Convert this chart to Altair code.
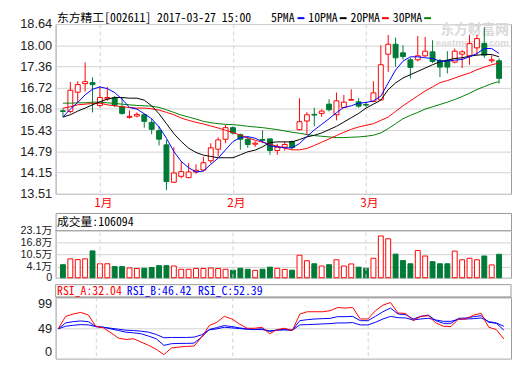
import altair as alt
import pandas as pd

# ---------------- data ----------------
dates = (["2016-12-26", "2016-12-27", "2016-12-28", "2016-12-29", "2016-12-30"]
         + ["2017-01-%02d" % d for d in [3, 4, 5, 6, 9, 10, 11, 12, 13, 16, 17, 18, 19, 20, 23, 24, 25, 26]]
         + ["2017-02-%02d" % d for d in [3, 6, 7, 8, 9, 10, 13, 14, 15, 16, 17, 20, 21, 22, 23, 24, 27, 28]]
         + ["2017-03-%02d" % d for d in [1, 2, 3, 6, 7, 8, 9, 10, 13, 14, 15, 16, 17, 20, 21, 22, 23, 24, 27]])

opens = [16.02, 16.00, 16.58, 16.84, 16.87, 16.18, 16.38, 16.42, 16.14, 15.82,
         15.86, 15.90, 15.67, 15.42, 14.99, 13.86, 14.04, 14.00, 14.17, 14.23,
         14.51, 14.86, 15.16, 15.51, 15.30, 15.16, 15.01, 15.15, 15.17, 14.82,
         14.92, 15.09, 15.45, 15.71, 15.91, 15.94, 16.22, 15.90, 16.12, 16.34,
         16.29, 16.21, 16.30, 16.35, 17.73, 18.03, 17.77, 17.56, 17.56, 17.68,
         17.80, 17.54, 17.54, 17.49, 17.73, 17.68, 17.92, 18.05, 17.53, 17.53]
highs = [16.09, 16.89, 16.91, 17.48, 17.03, 16.76, 16.74, 16.47, 16.42, 16.03,
         15.97, 15.93, 15.78, 15.55, 15.14, 14.92, 14.50, 14.44, 14.40, 14.63,
         15.04, 15.22, 15.59, 15.55, 15.33, 15.24, 15.10, 15.43, 15.18, 15.02,
         15.09, 15.12, 16.40, 15.98, 16.11, 16.06, 16.37, 16.57, 16.50, 16.67,
         16.40, 16.29, 16.91, 18.00, 18.31, 18.23, 18.00, 17.62, 18.28, 18.25,
         18.15, 17.59, 17.82, 17.90, 17.85, 18.30, 18.31, 18.54, 17.70, 17.60]
lows = [15.83, 15.94, 16.27, 16.60, 15.97, 16.12, 16.32, 16.13, 15.90, 15.78,
        15.82, 15.51, 15.31, 14.97, 13.62, 13.84, 13.98, 13.98, 14.12, 14.19,
        14.43, 14.64, 15.04, 15.30, 14.84, 14.90, 14.93, 15.05, 14.69, 14.69,
        14.82, 14.85, 15.43, 15.29, 15.55, 15.84, 16.00, 15.73, 16.11, 16.33,
        16.11, 16.13, 16.30, 16.33, 17.19, 17.35, 17.57, 16.99, 17.51, 17.64,
        17.46, 17.04, 17.15, 17.45, 17.31, 17.41, 17.70, 17.62, 17.47, 16.84]
closes = [16.00, 16.64, 16.81, 16.90, 16.81, 16.42, 16.42, 16.19, 15.94, 15.85,
          15.91, 15.70, 15.46, 15.16, 13.88, 14.14, 14.18, 14.17, 14.22, 14.45,
          14.90, 15.14, 15.51, 15.35, 15.16, 15.00, 15.04, 15.13, 14.82, 14.92,
          15.00, 14.91, 15.69, 15.90, 15.89, 16.01, 16.05, 16.32, 16.28, 16.36,
          16.16, 16.19, 16.56, 17.41, 18.03, 17.62, 17.66, 17.33, 17.68, 17.82,
          17.51, 17.34, 17.34, 17.82, 17.80, 18.05, 18.20, 17.70, 17.56, 17.00]
volumes = [5.1, 8.2, 7.8, 8.2, 12.4, 5.6, 5.6, 4.1, 4.1, 3.4,
           3.1, 3.2, 3.6, 4.6, 4.6, 4.4, 2.7, 2.7, 3.1, 3.1,
           3.4, 3.1, 2.7, 2.2, 3.2, 2.7, 2.1, 2.7, 3.8, 3.2,
           2.6, 2.2, 10.1, 7.2, 5.6, 4.4, 5.1, 7.7, 4.4, 5.5,
           3.8, 3.2, 8.5, 20.3, 18.8, 10.7, 7.3, 5.6, 12.6, 9.7,
           6.7, 5.6, 5.6, 12.3, 7.7, 8.5, 7.7, 9.7, 5.0, 10.6094]
ma5 = [15.83, 16.07, 16.27, 16.50, 16.67, 16.74, 16.69, 16.57, 16.37, 16.12,
       16.07, 15.93, 15.78, 15.53, 15.19, 14.79, 14.49, 14.30, 14.17, 14.20,
       14.40, 14.59, 14.84, 15.09, 15.21, 15.24, 15.19, 15.09, 14.96, 14.93,
       14.90, 14.90, 15.03, 15.24, 15.44, 15.61, 15.78, 15.96, 16.12, 16.17,
       16.25, 16.27, 16.32, 16.46, 16.86, 17.25, 17.52, 17.65, 17.65, 17.62,
       17.60, 17.52, 17.52, 17.55, 17.57, 17.65, 17.75, 17.90, 17.90, 17.75]
ma10 = [15.83, 15.90, 16.01, 16.10, 16.20, 16.29, 16.37, 16.42, 16.42, 16.40,
        16.40, 16.34, 16.17, 15.93, 15.63, 15.33, 15.09, 14.89, 14.76, 14.68,
        14.64, 14.60, 14.60, 14.60, 14.69, 14.78, 14.83, 14.93, 15.06, 15.08,
        15.08, 15.08, 15.15, 15.23, 15.28, 15.35, 15.45, 15.55, 15.68, 15.81,
        15.94, 16.10, 16.22, 16.34, 16.66, 16.86, 17.01, 17.11, 17.21, 17.31,
        17.41, 17.50, 17.55, 17.60, 17.62, 17.67, 17.70, 17.72, 17.72, 17.65]
ma20 = [16.10, 16.14, 16.20, 16.22, 16.24, 16.25, 16.20, 16.17, 16.14, 16.12,
        16.10, 16.10, 16.08, 16.04, 15.97, 15.90, 15.80, 15.73, 15.67, 15.62,
        15.56, 15.50, 15.43, 15.36, 15.28, 15.20, 15.13, 15.07, 15.01, 14.95,
        14.89, 14.84, 14.84, 14.88, 14.97, 15.07, 15.17, 15.27, 15.37, 15.46,
        15.53, 15.58, 15.63, 15.73, 15.83, 16.00, 16.17, 16.32, 16.47, 16.62,
        16.74, 16.87, 16.93, 17.01, 17.09, 17.16, 17.26, 17.34, 17.41, 17.46]
ma30 = [16.25, 16.25, 16.26, 16.26, 16.28, 16.28, 16.26, 16.24, 16.22, 16.20,
        16.18, 16.17, 16.16, 16.12, 16.05, 15.97, 15.89, 15.83, 15.77, 15.70,
        15.66, 15.63, 15.61, 15.60, 15.58, 15.55, 15.53, 15.51, 15.48, 15.45,
        15.41, 15.37, 15.34, 15.30, 15.27, 15.25, 15.23, 15.21, 15.21, 15.22,
        15.23, 15.25, 15.28, 15.35, 15.48, 15.63, 15.78, 15.88, 15.97, 16.07,
        16.14, 16.21, 16.28, 16.36, 16.45, 16.55, 16.66, 16.75, 16.84, 16.90]
rsi_a = [48.3, 68.5, 72.3, 74.9, 70.7, 52.5, 49.9, 41.9, 33.3, 31.2,
         32.3, 26.9, 21.6, 15.2, 6.7, 17.3, 18.9, 20.0, 20.5, 34.9,
         53.6, 58.9, 68.5, 64.3, 56.3, 49.3, 49.3, 50.9, 40.3, 47.2,
         49.3, 45.6, 72.3, 76.0, 76.0, 76.0, 77.6, 82.9, 81.9, 82.9,
         64.3, 64.3, 77.6, 86.7, 90.9, 73.9, 73.3, 61.6, 68.5, 69.6,
         57.9, 52.5, 52.0, 64.3, 64.3, 70.7, 73.3, 50.9, 47.2, 32.04]
rsi_b = [48.3, 57.9, 60.0, 61.1, 60.0, 52.0, 50.9, 48.3, 45.6, 42.9,
         41.9, 40.3, 36.5, 32.3, 21.6, 24.3, 24.8, 24.8, 25.3, 34.9,
         47.2, 50.4, 53.6, 52.0, 49.9, 48.3, 47.7, 48.3, 44.0, 46.7,
         47.2, 46.1, 61.6, 63.2, 64.3, 64.8, 65.3, 68.0, 68.0, 68.5,
         61.6, 61.6, 68.5, 76.0, 81.9, 72.3, 71.2, 64.3, 68.5, 70.7,
         61.6, 57.3, 57.3, 65.3, 65.9, 68.0, 69.6, 58.9, 57.3, 46.42]
rsi_c = [48.3, 52.5, 54.1, 55.2, 54.7, 52.0, 50.9, 49.3, 47.7, 46.1,
         45.6, 44.5, 42.9, 39.2, 33.9, 34.4, 34.4, 34.4, 34.9, 38.7,
         46.7, 48.3, 50.9, 49.9, 48.8, 47.7, 47.2, 47.2, 45.1, 46.1,
         46.7, 46.1, 54.7, 55.2, 55.7, 56.3, 56.8, 57.9, 57.9, 58.4,
         54.7, 54.7, 58.9, 64.3, 68.5, 66.4, 65.9, 62.7, 64.3, 65.3,
         62.7, 60.5, 60.5, 63.7, 64.3, 64.8, 65.9, 60.0, 57.9, 52.39]

price_ticks = [13.51, 14.15, 14.79, 15.43, 16.08, 16.72, 17.36, 18.00, 18.64]
vol_ticks = [4.1, 10.5, 16.8, 23.1]
rsi_ticks = [0, 49, 99]
month_pos = [5, 23, 41]
month_names = ["1月", "2月", "3月"]
title_text = "东方精工[002611] 2017-03-27 15:00"
ma_names = ["5PMA", "10PMA", "20PMA", "30PMA"]
vol_title = "成交量:106094"
rsi_titles = ["RSI_A:32.04", "RSI_B:46.42", "RSI_C:52.39"]

# ---------------- styling ----------------
RED = "#ff0000"
GREEN = "#007a37"
BLUE = "#0000ff"
BLACK = "#000000"
MA_GREEN = "#008000"
BORDER = "#9a9a9a"
GRID = "#d2d2d2"
WM = "#dadada"
FONT_NUM = "Liberation Sans"
FONT_CJK = "Noto Sans CJK SC"
FONT_MONO = "Noto Sans Mono CJK SC, Noto Sans CJK SC, Liberation Mono, monospace"

W = 464
MAIN_H = 173
VOL_H = 66
RSI_H = 63
VOL_BASE = -1.8
VOL_TOP = 32.44
HEAD_Y = -6

df = pd.DataFrame({
    "i": list(range(len(dates))), "date": dates,
    "open": opens, "high": highs, "low": lows, "close": closes, "vol": volumes,
    "ma5": ma5, "ma10": ma10, "ma20": ma20, "ma30": ma30,
    "rsi_a": rsi_a, "rsi_b": rsi_b, "rsi_c": rsi_c,
})
months_df = pd.DataFrame({"pos": month_pos, "name": month_names})
one = pd.DataFrame({"k": [0]})

up = alt.datum.close >= alt.datum.open
down = alt.datum.close < alt.datum.open

x_scale = alt.Scale(domain=[-0.33, 59.95], nice=False, zero=False)
label_expr = " : ".join(f"datum.value == {p} ? '{n}'" for p, n in zip(month_pos, month_names)) + " : ''"

main_x_axis = alt.Axis(values=month_pos, labelExpr=label_expr, labelColor=RED, labelFont=FONT_CJK,
                       labelFontSize=12, labelPadding=4, labelOffset=3, ticks=False, domain=False,
                       grid=True, gridDash=[4, 3], gridColor=GRID, title=None)
plain_x_axis_grid = alt.Axis(values=month_pos, labels=False, ticks=False, domain=False, grid=True,
                             gridDash=[4, 3], gridColor=GRID, title=None)
plain_x_axis = alt.Axis(values=month_pos, labels=False, ticks=False, domain=False, grid=False, title=None)

price_scale = alt.Scale(domain=[13.51, 18.64], nice=False, zero=False)
price_axis = alt.Axis(values=price_ticks, format=".2f", title=None, ticks=False, domain=False,
                      labelFont=FONT_NUM, labelFontSize=13, labelColor="#222222", labelPadding=4,
                      labelOverlap=False, grid=True, gridColor=GRID, minExtent=41)

vol_scale = alt.Scale(domain=[VOL_BASE, VOL_TOP], nice=False, zero=False)
vol_axis = alt.Axis(values=[VOL_BASE] + vol_ticks,
                    labelExpr="datum.value < 0 ? '0' : format(datum.value, '.1f') + '万'",
                    title=None, ticks=False, domain=False, labelFont=FONT_NUM + ", " + FONT_CJK,
                    labelFontSize=11, labelColor="#222222", labelPadding=4, labelOverlap=False,
                    grid=True, gridColor=GRID, minExtent=41)

rsi_scale = alt.Scale(domain=[0, 100], nice=False, zero=False)
rsi_axis = alt.Axis(values=rsi_ticks, title=None, ticks=False, domain=False, labelFont=FONT_NUM,
                    labelFontSize=13, labelColor="#222222", labelPadding=4, labelOverlap=False,
                    labelFlush=2, grid=True, gridColor=GRID, minExtent=41)


def text_at(text, x, y, color="black", font=FONT_MONO, size=12, align="left", weight="normal"):
    return alt.Chart(pd.DataFrame({"t": [text]})).mark_text(
        align=align, baseline="middle", font=font, fontSize=size, color=color, fontWeight=weight
    ).encode(x=alt.value(x), y=alt.value(y), text="t:N")


def dash_at(x0, x1, y, color):
    return alt.Chart(one).mark_rule(color=color, strokeWidth=2).encode(
        x=alt.value(x0), x2=alt.value(x1), y=alt.value(y))


base = alt.Chart(df)
Xm = alt.X("i:Q", scale=x_scale, axis=main_x_axis)


def Yp(f):
    return alt.Y(f + ":Q", scale=price_scale, axis=price_axis)


# ---------------- main K-line panel ----------------
main_layers = [
    text_at("东方财富网", 462, 6.5, color=WM, font=FONT_CJK, size=14, align="right", weight="bold"),
    text_at("eastmoney.com", 462, 19.5, color=WM, font=FONT_NUM, size=10, align="right", weight="bold"),
    base.transform_filter(up).mark_rule(color=RED, strokeWidth=1).encode(x=Xm, y=Yp("low"), y2="high:Q"),
    base.transform_filter(down).mark_rule(color=GREEN, strokeWidth=1).encode(x=Xm, y=Yp("low"), y2="high:Q"),
    base.transform_filter(up).mark_bar(size=5, fill="white", stroke=RED, strokeWidth=1).encode(
        x=Xm, y=Yp("open"), y2="close:Q"),
    base.transform_filter(down).mark_bar(size=5, fill=GREEN, stroke=GREEN, strokeWidth=1).encode(
        x=Xm, y=Yp("open"), y2="close:Q"),
    base.mark_line(color=MA_GREEN, strokeWidth=1).encode(x=Xm, y=Yp("ma30")),
    base.mark_line(color=RED, strokeWidth=1).encode(x=Xm, y=Yp("ma20")),
    base.mark_line(color=BLACK, strokeWidth=1).encode(x=Xm, y=Yp("ma10")),
    base.mark_line(color=BLUE, strokeWidth=1).encode(x=Xm, y=Yp("ma5")),
    text_at(title_text, 1.5, HEAD_Y),
    text_at(ma_names[0], 219.5, HEAD_Y),
    dash_at(246.5, 253.5, HEAD_Y, BLUE),
    text_at(ma_names[1], 257.5, HEAD_Y),
    dash_at(289.5, 296.5, HEAD_Y, BLACK),
    text_at(ma_names[2], 300.5, HEAD_Y),
    dash_at(332.5, 339.5, HEAD_Y, RED),
    text_at(ma_names[3], 343.5, HEAD_Y),
    dash_at(375.5, 382.5, HEAD_Y, MA_GREEN),
]
main = alt.layer(*main_layers).properties(width=W, height=MAIN_H)

# ---------------- volume panel ----------------
Xv = alt.X("i:Q", scale=x_scale, axis=plain_x_axis)
Yv = alt.Y("vol:Q", scale=vol_scale, axis=vol_axis)
vol_layers = [
    base.transform_filter(up).mark_bar(size=5, fill="white", stroke=RED, strokeWidth=1).encode(
        x=Xv, y=Yv, y2=alt.Y2Datum(VOL_BASE)),
    base.transform_filter(down).mark_bar(size=5, fill=GREEN, stroke=GREEN, strokeWidth=1).encode(
        x=Xv, y=Yv, y2=alt.Y2Datum(VOL_BASE)),
    alt.Chart(months_df).mark_rule(color=GRID, strokeDash=[4, 3]).encode(
        x=alt.X("pos:Q", scale=x_scale, axis=plain_x_axis),
        y=alt.YDatum(VOL_BASE, scale=vol_scale, axis=vol_axis),
        y2=alt.Y2Datum(vol_ticks[-1])),
    alt.Chart(one).mark_rule(color=BORDER, strokeWidth=1).encode(
        y=alt.YDatum(vol_ticks[-1], scale=vol_scale, axis=vol_axis)),
    text_at(vol_title, 1.5, 9),
]
vol = alt.layer(*vol_layers).properties(width=W, height=VOL_H)

# ---------------- RSI panel ----------------
Xr = alt.X("i:Q", scale=x_scale, axis=plain_x_axis_grid)


def Yr(f):
    return alt.Y(f + ":Q", scale=rsi_scale, axis=rsi_axis)


rsi_layers = [
    base.mark_line(color=BLUE, strokeWidth=1).encode(x=Xr, y=Yr("rsi_c")),
    base.mark_line(color=BLUE, strokeWidth=1).encode(x=Xr, y=Yr("rsi_b")),
    base.mark_line(color=RED, strokeWidth=1).encode(x=Xr, y=Yr("rsi_a")),
    alt.Chart(one).mark_rect(fill="white", stroke=BORDER, strokeWidth=1).encode(
        x=alt.value(0), x2=alt.value(W), y=alt.value(-12.5), y2=alt.value(0)),
    text_at(rsi_titles[0], 1.5, -6, color=RED),
    text_at(rsi_titles[1], 72.5, -6, color=BLUE),
    text_at(rsi_titles[2], 145, -6, color=BLUE),
]
rsi = alt.layer(*rsi_layers).properties(width=W, height=RSI_H)

chart = (
    alt.vconcat(main, vol, rsi, spacing=19.5, bounds="flush")
    .resolve_scale(y="independent")
    .properties(padding={"left": 6.5, "top": 0, "right": 0, "bottom": 0}, background="white")
    .configure_view(stroke=BORDER, strokeWidth=1)
)

chart.save("out.html", embed_options={"renderer": "svg", "actions": False})
